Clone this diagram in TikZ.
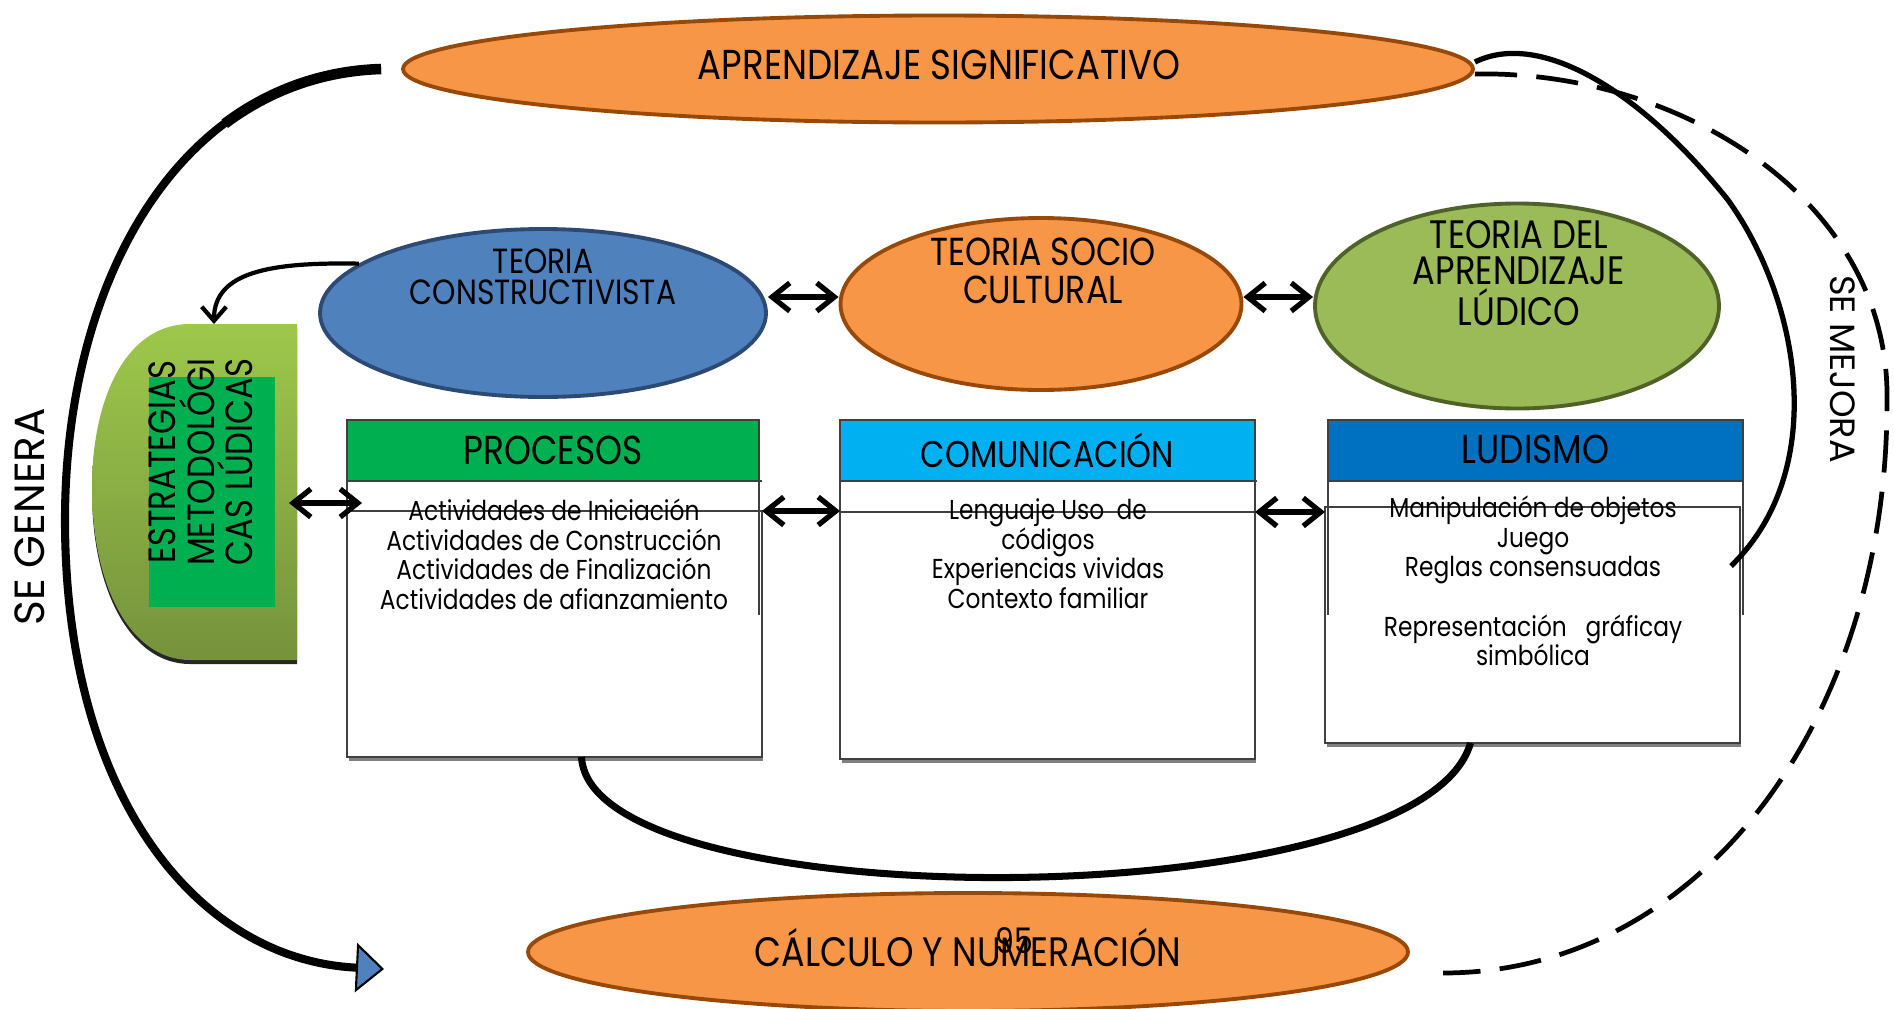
\documentclass[tikz,border=0pt]{standalone}
\usepackage{fontspec}
\setmainfont{Poppins}
\newfontfamily\condfont[FakeStretch=0.85]{Poppins}
\usetikzlibrary{shapes.geometric,arrows.meta}

\definecolor{orangefill}{HTML}{F79646}
\definecolor{orangeline}{HTML}{984807}
\definecolor{bluefill}{HTML}{4F81BD}
\definecolor{blueline}{HTML}{2C4A74}
\definecolor{greenfill}{HTML}{9BBB59}
\definecolor{greenline}{HTML}{4F6228}
\definecolor{hdrgreen}{HTML}{00B050}
\definecolor{hdrcyan}{HTML}{00B0F0}
\definecolor{hdrblue}{HTML}{0070C0}
\definecolor{strattop}{HTML}{9DC84B}
\definecolor{stratbot}{HTML}{76923C}
\definecolor{boxline}{HTML}{404040}

\newcommand\tightlines{\lineskiplimit=-20pt\relax\lineskip=0pt\relax}

\tikzset{
 theory/.style={ellipse, draw, line width=1.1pt, inner sep=0pt},
 title/.style={font=\condfont\fontsize{10.3}{10.6}\selectfont, align=center, inner sep=0pt},
 hdr/.style={inner sep=0pt, outer sep=0pt, minimum height=6.1mm,
   font=\condfont\fontsize{11.5}{12}\selectfont},
 body/.style={font=\condfont\fontsize{7.8}{8.45}\selectfont\tightlines,
   align=center, inner sep=0pt, anchor=north},
 boxframe/.style={draw=boxline, line width=0.5pt},
 lowbox/.style={boxframe, inner sep=0pt, outer sep=0pt},
 dbl/.style={{Straight Barb[length=5pt,width=8pt]}-{Straight Barb[length=5pt,width=8pt]},
   line width=1.5pt},
 big/.style={line width=2pt},
 side/.style={font=\fontsize{12}{12}\selectfont, inner sep=0pt},
}

\begin{document}
\begin{tikzpicture}[x=0.1mm, y=-0.1mm]
\useasboundingbox (0,0) rectangle (1894,1009);

% teorias
\node[theory, fill=orangefill, draw=orangeline, minimum width=107mm, minimum height=10.7mm] (aprend) at (938,69) {};
\node[title, font=\condfont\fontsize{11.9}{12}\selectfont] (aprendtxt) at (939,65) {APRENDIZAJE SIGNIFICATIVO};

\node[theory, fill=bluefill, draw=blueline, minimum width=44.6mm, minimum height=16.8mm] (tconst) at (543,313) {};
\node[title, font=\condfont\fontsize{9.95}{8.8}\selectfont] (tconsttxt) at (543,277) {TEORIA\\CONSTRUCTIVISTA};

\node[theory, fill=orangefill, draw=orangeline, minimum width=40.1mm, minimum height=17.2mm] (tsocio) at (1041,304) {};
\node[title, font=\condfont\fontsize{11.1}{10.8}\selectfont] (tsociotxt) at (1043,271) {TEORIA SOCIO\\CULTURAL};

\node[theory, fill=greenfill, draw=greenline, minimum width=40.4mm, minimum height=20.5mm] (tlud) at (1517,306) {};
\node[title, font=\condfont\fontsize{11.3}{10.4}\selectfont] (tludtxt) at (1519,273) {TEORIA DEL\\APRENDIZAJE\\LÚDICO};

\node[theory, fill=orangefill, draw=orangeline, minimum width=88mm, minimum height=11.8mm] (calc) at (968,952) {};
\node[title, font=\condfont\fontsize{11.7}{12}\selectfont] (calctxt) at (968,948) {CÁLCULO Y NUMERACIÓN};
\node[title, font=\condfont\fontsize{10}{10}\selectfont] (pagenum) at (1014,941) {95};

% estrategias
\fill[black!85] (297,328) -- (190,328) .. controls (125,328) and (92,404) .. (92,492) .. controls (92,589) and (130,664) .. (190,664) -- (297,664) -- cycle;
\shade[top color=strattop, bottom color=stratbot] (297,324) -- (190,324) .. controls (125,324) and (92,400) .. (92,488) .. controls (92,585) and (130,660) .. (190,660) -- (297,660) -- cycle;
\node[fill=hdrgreen, minimum width=12.6mm, minimum height=23mm, inner sep=0pt] (strat) at (212,492) {};
\node[rotate=90, align=center, font=\condfont\fontsize{10.8}{11}\selectfont, inner sep=0pt] (strattxt) at (201,462) {ESTRATEGIAS\\METODOLÓGI\\CAS LÚDICAS};
\coordinate (stratN) at (214,324);
\coordinate (stratE) at (289,503);

% procesos
\node[hdr, fill=hdrgreen, minimum width=41.2mm] (prochd) at (553,450.5) {PROCESOS};
\draw[boxframe] (347,615) -- (347,420) -- (759,420) -- (759,615);
\draw[boxframe] (347,481) -- (762,481);
\node[lowbox, minimum width=41.5mm, minimum height=24.6mm] (proclow) at (554.5,634) {};
\draw[gray, line width=0.8pt] (349,759.5) -- (763,759.5);
\node[body] (proctxt) at (554,498) {Actividades de Iniciación\\Actividades de Construcción\\Actividades de Finalización\\Actividades de afianzamiento};

% comunicacion
\node[hdr, fill=hdrcyan, minimum width=41.5mm, font=\condfont\fontsize{10.6}{11}\selectfont] (comhd) at (1047.5,450.5) {COMUNICACIÓN};
\draw[boxframe] (840,615) -- (840,420) -- (1255,420) -- (1255,615);
\draw[boxframe] (840,481) -- (1257,481);
\node[lowbox, minimum width=41.5mm, minimum height=24.7mm] (comlow) at (1047.5,635.5) {};
\draw[gray, line width=0.8pt] (842,761.5) -- (1256,761.5);
\node[body] (comtxt) at (1048,498) {Lenguaje Uso\ \ de\\códigos\\Experiencias vividas\\Contexto familiar};

% ludismo
\node[hdr, fill=hdrblue, minimum width=41.5mm] (ludhd) at (1535.5,449) {LUDISMO};
\draw[boxframe] (1328,615) -- (1328,420) -- (1743,420) -- (1743,615);
\draw[boxframe] (1328,481) -- (1743,481);
\node[lowbox, minimum width=41.5mm, minimum height=23.6mm] (ludlow) at (1532.5,625) {};
\draw[gray, line width=0.8pt] (1327,745.5) -- (1741,745.5);
\node[body] (ludtxt) at (1533,495) {Manipulación de objetos\\Juego\\Reglas consensuadas\\[8.45pt]Representación\ \ \ gráficay\\simbólica};

% flechas dobles
\draw[dbl] ([yshift=0.7mm]tsocio.west -| tconst.east) -- ([yshift=0.7mm]tsocio.west);
\draw[dbl] ([yshift=0.7mm]tsocio.east) -- ([yshift=0.7mm]tsocio.east -| tlud.west);
\draw[dbl] (stratE) -- ([xshift=1.5mm]stratE -| proclow.west);
\draw[dbl] (proclow.north east) -- (proclow.north east -| comlow.west);
\draw[dbl] (comlow.north east) -- (comlow.north east -| ludlow.west);
\draw[line width=1.2pt, -{Straight Barb[length=4pt,width=7pt]}] (tconst.165) .. controls (270,262) and (214,272) .. (stratN);

% se genera
\coordinate (calcW) at (384,969);
\draw[line width=3pt] ([xshift=-2mm]aprend.west) .. controls (322,70.8) and (269,90.5) .. (224.8,123.7);
\draw[big, line width=2.3pt, -{Triangle[length=8pt, width=14pt, fill=bluefill, line width=0.6pt]}] ([xshift=-2mm]aprend.west) .. controls (180,75) and (65,280) .. (65,520) .. controls (65,800) and (200,960) .. (calcW);
\node[side, rotate=90] (genera) at (30,517) {SE GENERA};

% se mejora
\coordinate (mejE) at (1731,566);
\coordinate (dashE) at (1443,973);
\draw[line width=1.5pt] ([yshift=0.7mm]aprend.east) .. controls (1540,30) and (1640,90) .. (1728,200) .. controls (1800,300) and (1830,470) .. (mejE);
\draw[line width=1.35pt, dash pattern=on 12pt off 5.5pt] ([yshift=-0.5mm]aprend.east) .. controls (1680,70) and (1890,200) .. (1887,400) .. controls (1888,720) and (1700,973) .. (dashE);
\node[side, rotate=-90, font=\fontsize{10}{10}\selectfont] (mejora) at (1843,369) {SE MEJORA};

% procesos - ludismo
\draw[big] ([xshift=2.7mm]proclow.south) .. controls (590,920) and (1420,920) .. ([xshift=-6.2mm]ludlow.south);
\end{tikzpicture}
\end{document}
